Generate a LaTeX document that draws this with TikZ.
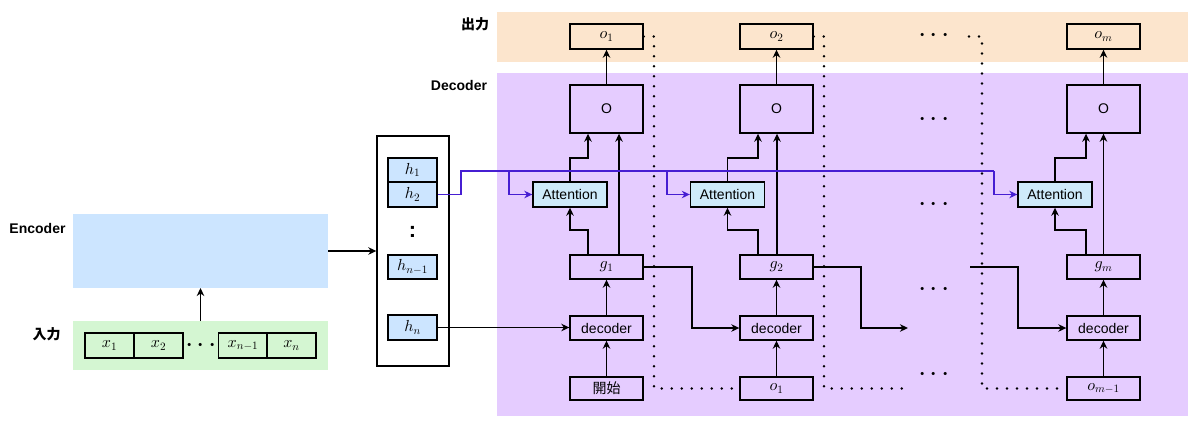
\documentclass[tikz,border=0pt]{standalone}
\usepackage[no-math]{fontspec}
\setmainfont{Liberation Sans}
\newfontfamily\cjk{Noto Sans CJK JP}
\DeclareFontShape{OML}{cmm}{m}{it}{<->cmmi10}{}
\DeclareFontShape{OT1}{cmr}{m}{n}{<->cmr10}{}
\DeclareFontShape{OMS}{cmsy}{m}{n}{<->cmsy10}{}
\usetikzlibrary{arrows.meta}
\definecolor{orangeband}{RGB}{252,229,205}
\definecolor{purpleband}{RGB}{229,204,255}
\definecolor{encblue}{RGB}{204,229,255}
\definecolor{inpgreen}{RGB}{212,246,210}
\definecolor{attblue}{RGB}{206,234,250}
\definecolor{purpline}{RGB}{70,30,210}
\newcommand\fsz{\fontsize{14}{16}\selectfont}
\newcommand\mfsz{\fontsize{16}{18}\selectfont}
\newcommand\mydots{\ensuremath{\cdotp}\hspace{3pt}\ensuremath{\cdotp}\hspace{3pt}\ensuremath{\cdotp}}
\begin{document}
\begin{tikzpicture}[x=1pt,y=-1pt,
  band/.style={inner sep=0pt,outer sep=0pt},
  box/.style={draw=black,line width=1.4pt,minimum width=73pt,minimum height=24pt,inner sep=0pt,font=\fsz},
  mbox/.style={box,font=\mfsz},
  cell/.style={draw=black,line width=1.4pt,minimum width=49pt,minimum height=25pt,inner sep=0pt,font=\mfsz},
  attbox/.style={box,fill=attblue,minimum width=74pt,minimum height=25pt},
  lbl/.style={font=\fsz\bfseries,inner sep=0pt},
  arr/.style={-{Stealth[length=8pt,width=7.5pt,inset=2.5pt]},line width=1.3pt},
  parr/.style={-{Stealth[length=8pt,width=7.5pt,inset=2.5pt]},line width=1.3pt,draw=purpline},
  pline/.style={line width=1.3pt,draw=purpline},
  dotline/.style={line width=2.8pt,line cap=round,dash pattern=on 0pt off 10pt},
  ell/.style={font=\fontsize{30}{30}\selectfont,inner sep=0pt}]
\useasboundingbox (0,0) rectangle (1200,429);
% bands
\node[band,fill=orangeband,minimum width=691pt,minimum height=50pt] (outband) at (842.5,37) {};
\node[band,fill=purpleband,minimum width=691pt,minimum height=343pt] (decband) at (842.5,244.5) {};
\node[band,fill=encblue,minimum width=255pt,minimum height=74pt] (enc) at (200.5,251) {};
\node[band,fill=inpgreen,minimum width=255pt,minimum height=49pt] (inp) at (200.5,345.5) {};
% labels
\node[lbl] (lenc) at (37.5,228) {Encoder};
\node[lbl] (linp) at (46.5,334) {\cjk\bfseries 入力};
\node[lbl] (lout) at (475,24) {\cjk\bfseries 出力};
\node[lbl] (ldec) at (459,85) {Decoder};
% input cells
\node[cell] (x1) at (109.5,345.5) {$x_1$};
\node[cell] (x2) at (158.5,345.5) {$x_2$};
\node[ell] (xd) at (201,346) {\mydots};
\node[cell] (xn1) at (243,345.5) {$x_{n-1}$};
\node[cell] (xn) at (291.5,345.5) {$x_n$};
\draw[arr] (inp.north) -- (enc.south);
% hidden states
\node[draw=black,line width=1.4pt,fill=white,minimum width=72pt,minimum height=230pt,inner sep=0pt] (hbox) at (413,251) {};
\node[cell,fill=encblue,minimum height=24pt] (h1) at (412.5,170) {$h_1$};
\node[cell,fill=encblue] (h2) at (412.5,194.5) {$h_2$};
\node[inner sep=0pt,font=\fontsize{22}{22}\selectfont\bfseries] (hd) at (412.5,232) {:};
\node[cell,fill=encblue,minimum height=24pt] (hn1) at (412.5,267) {$h_{n-1}$};
\node[cell,fill=encblue] (hn) at (412.5,327.5) {$h_n$};
\draw[arr] (enc.east) -- (hbox.west);
% column 1
\node[mbox,fill=orangeband,minimum height=25pt] (o1) at (606.5,36.5) {$o_1$};
\node[box,minimum height=48pt] (O1) at (606.5,109) {O};
\node[attbox] (att1) at (570,194.5) {Attention};
\node[mbox] (g1) at (606.5,267) {$g_1$};
\node[box] (dec1) at (606.5,328) {decoder};
\node[box,minimum height=23pt] (st1) at (606.5,388.5) {\cjk 開始};
% column 2
\node[mbox,fill=orangeband,minimum height=25pt] (o2) at (776.5,36.5) {$o_2$};
\node[box,minimum height=48pt] (O2) at (776.5,109) {O};
\node[attbox] (att2) at (727.5,194.5) {Attention};
\node[mbox] (g2) at (776.5,267) {$g_2$};
\node[box] (dec2) at (776.5,328) {decoder};
\node[mbox,minimum height=23pt] (ob2) at (776.5,388.5) {$o_1$};
% column m
\node[mbox,fill=orangeband,minimum height=25pt] (om) at (1103.5,36.5) {$o_m$};
\node[box,minimum height=48pt] (Om) at (1103.5,109) {O};
\node[attbox] (attm) at (1055,194.5) {Attention};
\node[mbox] (gm) at (1103.5,267) {$g_m$};
\node[box] (decm) at (1103.5,328) {decoder};
\node[mbox,minimum height=23pt] (obm) at (1103.5,388.5) {$o_{m-1}$};
% ellipses
\node[ell] (e1) at (934,36) {\mydots};
\node[ell] (e2) at (934,120) {\mydots};
\node[ell] (e3) at (934,205) {\mydots};
\node[ell] (e4) at (934,290) {\mydots};
\node[ell] (e5) at (934,375) {\mydots};
% helper coordinates
\coordinate (ca1) at (588,158); \coordinate (cb1) at (619,0); \coordinate (m1) at (570,230);
\coordinate (ca2) at (758,158); \coordinate (cb2) at (777,0); \coordinate (m2) at (727.5,230);
\coordinate (ca3) at (1086,158); \coordinate (cb3) at (1103.5,0); \coordinate (m3) at (1055,230);
% vertical flows in each column
\foreach \c/\a/\m in {1/1/1,2/2/2,m/3/3}{
  \draw[arr] (dec\c.north) -- (g\c.south);
  \draw[arr] (O\c.north) -- (o\c.south);
  \draw[arr] (att\c.north) |- (ca\a) -- (ca\a |- O\c.south);
  \draw[arr] (g\c.north -| ca\a) |- (m\m) -- (att\c.south);
  \draw[arr] (g\c.north -| cb\a) -- (O\c.south -| cb\a);
}
\draw[arr] (st1.north) -- (dec1.south);
\draw[arr] (ob2.north) -- (dec2.south);
\draw[arr] (obm.north) -- (decm.south);
% encoder last state to first decoder
\draw[arr] (hn.east) -- (hn.east -| dec1.west);
% g to next decoder
\coordinate (r1) at (692,267);
\draw[arr] (g1.east) -- (r1) |- (dec2.west);
\coordinate (r2) at (861,267); \coordinate (e2end) at (908,328);
\draw[arr] (g2.east) -- (r2) |- (e2end);
\coordinate (s3) at (970,267); \coordinate (r3) at (1018,267);
\draw[arr] (s3) -- (r3) |- (decm.west);
% attention feed (purple)
\coordinate (pj) at (461,171);
\coordinate (pb1) at (509,171); \coordinate (pb2) at (667,171); \coordinate (pb3) at (994,171);
\draw[pline] (h2.east) -| (pj) -- (pb3);
\draw[parr] (pb1) |- (att1.west);
\draw[parr] (pb2) |- (att2.west);
\draw[parr] (pb3) |- (attm.west);
% dotted feedback lines
\coordinate (v1t) at (654,36.5); \coordinate (v1b) at (654,388.5);
\draw[dotline] (o1.east) -- (v1t) -- (v1b) -- (ob2.west);
\coordinate (v2t) at (824,36.5); \coordinate (v2b) at (824,388.5); \coordinate (v2e) at (907,388.5);
\draw[dotline] (o2.east) -- (v2t) -- (v2b) -- (v2e);
\coordinate (v3s) at (969,36.5); \coordinate (v3t) at (982,36.5); \coordinate (v3b) at (982,388.5);
\draw[dotline] (v3s) -- (v3t) -- (v3b) -- (obm.west);
\end{tikzpicture}
\end{document}
